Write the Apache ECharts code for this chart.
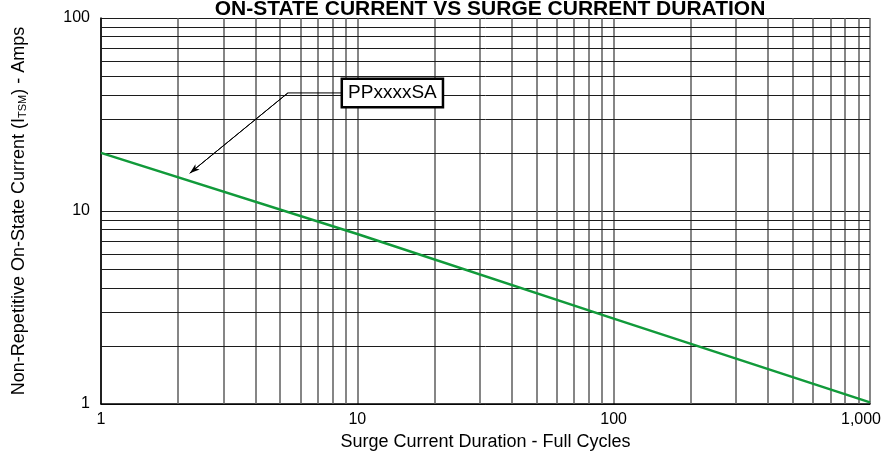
<!DOCTYPE html>
<html>
<head>
<meta charset="utf-8">
<script src="https://cdn.jsdelivr.net/npm/echarts@6/dist/echarts.min.js"></script>
<style>
  html, body { margin: 0; padding: 0; background: #fff; }
  #chart { width: 887px; height: 454px; }
</style>
</head>
<body>
<div id="chart"></div>
<script>
// surge current curve
var cycles = [1, 10, 100, 1000];
var itsm = [20, 7.6, 2.77, 1.02];

// minor grid positions of the log-log paper
var xMinor = [2, 3, 4, 5, 6, 7, 8, 9, 20, 30, 40, 50, 60, 70, 80, 90, 200, 300, 400, 500, 600, 700, 800, 900];
var yMinor = [2, 3, 4, 5, 6, 7, 8, 9, 20, 30, 40, 50, 60, 70, 80, 90];

// callout: box anchor and leader points (data coords)
var calloutText = 'PPxxxxSA';
var calloutBox = [13.7, 40.9];
var leader = [[8.71, 40.9], [5.36, 40.9], [2.22, 15.7]];

var FONT = '"Liberation Sans", Arial, Helvetica, sans-serif';
var chart = echarts.init(document.getElementById('chart'));

var gridV = '#5e5e5e';
var gridH = '#1c1c1c';

chart.setOption({
  animation: false,
  textStyle: {fontFamily: FONT, color: '#000'},
  title: {
    text: 'ON-STATE CURRENT VS SURGE CURRENT DURATION',
    left: 485,
    textAlign: 'center',
    top: -6,
    textStyle: {fontFamily: FONT, fontSize: 21, fontWeight: 'bold', color: '#000'}
  },
  grid: {left: 101, right: 17, top: 18, bottom: 50, outerBoundsMode: 'none', containLabel: false},
  xAxis: {
    type: 'log',
    logBase: 10,
    min: 1,
    max: 1000,
    name: 'Surge Current Duration - Full Cycles',
    nameLocation: 'middle',
    nameGap: 28,
    nameTextStyle: {fontFamily: FONT, fontSize: 18, color: '#000'},
    axisLine: {lineStyle: {color: '#000', width: 1.5}},
    axisTick: {show: false},
    axisLabel: {
      fontFamily: FONT, fontSize: 16, color: '#000', margin: 8,
      formatter: function (v) { return v >= 1000 ? '{r|1,000}' : String(v); },
      rich: {r: {fontFamily: FONT, fontSize: 16, color: '#000', padding: [0, 18, 0, 0]}}
    },
    splitLine: {show: true, lineStyle: {color: gridV, width: 1.5}}
  },
  yAxis: {
    type: 'log',
    logBase: 10,
    min: 1,
    max: 100,
    name: 'Non-Repetitive On-State Current (I{sub|TSM}) - Amps',
    nameLocation: 'middle',
    nameGap: 73,
    nameTextStyle: {
      fontFamily: FONT, fontSize: 18, color: '#000',
      rich: {sub: {fontFamily: FONT, fontSize: 11, color: '#000', verticalAlign: 'bottom', padding: [7, 0, 0, 0]}}
    },
    axisLine: {lineStyle: {color: '#000', width: 1.5}},
    axisTick: {show: false},
    axisLabel: {fontFamily: FONT, fontSize: 16, color: '#000', margin: 11},
    splitLine: {show: true, lineStyle: {color: gridH, width: 1}}
  },
  series: [
    {
      // minor grid of the paper
      type: 'line',
      data: [],
      silent: true,
      markLine: {
        silent: true,
        symbol: ['none', 'none'],
        label: {show: false},
        animation: false,
        data: xMinor.map(function (v) {
          return {xAxis: v, lineStyle: {color: gridV, width: 1.5, type: 'solid'}};
        }).concat(yMinor.map(function (v) {
          return {yAxis: v, lineStyle: {color: gridH, width: 1, type: 'solid'}};
        }))
      }
    },
    {
      name: 'PPxxxxSA',
      type: 'line',
      data: cycles.map(function (c, i) { return [c, itsm[i]]; }),
      symbol: 'none',
      lineStyle: {color: '#119a3a', width: 2.5},
      z: 5
    },
    {
      // callout leader and label box
      type: 'line',
      data: leader,
      symbol: 'none',
      silent: true,
      lineStyle: {color: '#000', width: 1},
      z: 6,
      markLine: {
        silent: true,
        symbol: ['none', 'arrow'],
        symbolSize: [5, 10],
        label: {show: false},
        lineStyle: {color: '#000', width: 1, type: 'solid'},
        data: [[{coord: leader[1]}, {coord: leader[2]}]]
      },
      markPoint: {
        silent: true,
        symbol: 'rect',
        symbolSize: 1,
        itemStyle: {color: 'rgba(0,0,0,0)'},
        label: {
          show: true,
          position: 'inside',
          formatter: calloutText,
          fontFamily: FONT,
          fontSize: 19,
          color: '#000',
          backgroundColor: '#fff',
          borderColor: '#000',
          borderWidth: 2.5,
          padding: [4, 5, 3, 5]
        },
        data: [{coord: calloutBox}]
      }
    }
  ]
});
</script>
</body>
</html>
